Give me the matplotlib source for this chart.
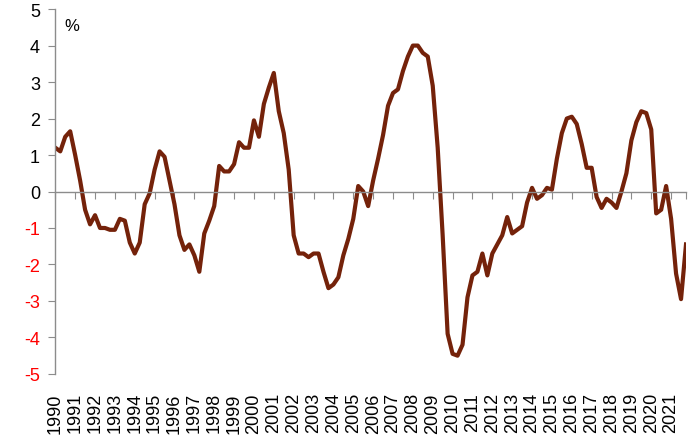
import matplotlib
matplotlib.use("Agg")
import matplotlib.pyplot as plt
import matplotlib.transforms as mtransforms

years = list(range(1990, 2022))
values = [
    1.2, 1.1, 1.5, 1.65,
    1.0, 0.3, -0.5, -0.9,
    -0.65, -1.0, -1.0, -1.05,
    -1.05, -0.75, -0.8, -1.4,
    -1.7, -1.4, -0.35, -0.05,
    0.6, 1.1, 0.95, 0.3,
    -0.35, -1.2, -1.6, -1.45,
    -1.75, -2.2, -1.15, -0.8,
    -0.4, 0.7, 0.55, 0.55,
    0.75, 1.35, 1.2, 1.2,
    1.95, 1.5, 2.4, 2.85,
    3.25, 2.2, 1.6, 0.6,
    -1.2, -1.7, -1.7, -1.8,
    -1.7, -1.7, -2.2, -2.65,
    -2.55, -2.35, -1.75, -1.3,
    -0.75, 0.15, 0.0, -0.4,
    0.3, 0.9, 1.55, 2.35,
    2.7, 2.8, 3.3, 3.7,
    4.0, 4.0, 3.8, 3.7,
    2.9, 1.2, -1.2, -3.9,
    -4.45, -4.5, -4.2, -2.9,
    -2.3, -2.2, -1.7, -2.3,
    -1.7, -1.45, -1.2, -0.7,
    -1.15, -1.05, -0.95, -0.3,
    0.1, -0.2, -0.1, 0.1,
    0.05, 0.9, 1.6, 2.0,
    2.05, 1.85, 1.3, 0.65,
    0.65, -0.15, -0.45, -0.2,
    -0.3, -0.15, -0.45, 0.0,
    0.5, 1.4, 1.9, 2.2,
    2.15, 1.7, -0.6, -0.5,
    0.15, -0.75, -2.25, -2.95,
    -1.45,
]
del values[113]  # align to 128 quarterly points

fig = plt.figure(figsize=(7, 4.39), dpi=100)
ax = fig.add_axes([0.079, 0.146, 0.901, 0.831])
x = list(range(len(values)))
ax.plot(x, values, color="#74220A", lw=3.0, solid_joinstyle="round")
ax.set_xlim(0, len(values) - 1)
ax.set_ylim(-5, 5)

for s in ["top", "right"]:
    ax.spines[s].set_visible(False)
ax.spines["left"].set_color("#8c8c8c")
ax.spines["bottom"].set_color("#8c8c8c")
ax.spines["bottom"].set_position(("data", 0))
ax.spines["left"].set_linewidth(1)
ax.spines["bottom"].set_linewidth(1)

ax.set_yticks(range(-5, 6))
ax.set_yticklabels([str(v) for v in range(-5, 6)], fontsize=13, family="Liberation Sans")
for lab, v in zip(ax.get_yticklabels(), range(-5, 6)):
    lab.set_color("red" if v < 0 else "black")
ax.tick_params(axis="y", direction="out", length=5, color="#8c8c8c", pad=6)

tick_pos = [4 * i for i in range(len(years))] + [len(values) - 1]
ax.set_xticks(tick_pos)
ax.set_xticklabels([])
ax.tick_params(axis="x", direction="out", length=5, color="#8c8c8c")

trans = mtransforms.blended_transform_factory(ax.transData, ax.transAxes)
for i, yr in enumerate(years):
    ax.text(4 * i, -0.05, str(yr), transform=trans, rotation=90, ha="center", va="top",
            fontsize=13, family="Liberation Sans")

ax.text(0.015, 0.975, "%", transform=ax.transAxes, fontsize=12, family="Liberation Sans",
        va="top", ha="left")

fig.savefig("out.png", dpi=100)
